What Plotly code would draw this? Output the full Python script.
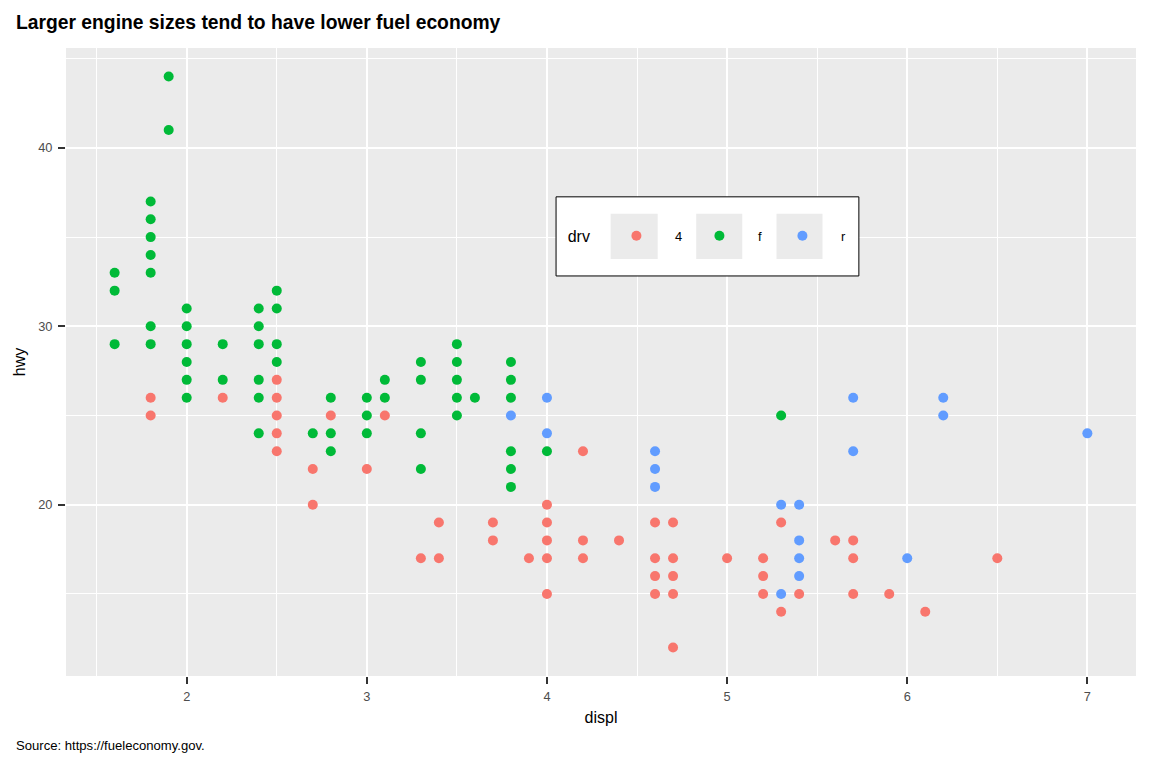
import plotly.graph_objects as go

# mpg: engine displacement vs highway mileage, split by drive train
drv_levels = ['4', 'f', 'r']
drv_colors = ['#F8766D', '#00BA38', '#619CFF']

displ_4 = [1.8, 1.8, 2.2, 2.5, 2.5, 2.5, 2.5, 2.5, 2.7, 2.7, 2.8, 3.0, 3.1,
           3.3, 3.4, 3.4, 3.7, 3.7, 3.9, 4.0, 4.0, 4.0, 4.0, 4.0,
           4.2, 4.2, 4.2, 4.4, 4.6, 4.6, 4.6, 4.6, 4.7, 4.7, 4.7, 4.7, 4.7,
           5.0, 5.2, 5.2, 5.2, 5.3, 5.3, 5.4, 5.6, 5.7, 5.7, 5.7, 5.9, 6.1, 6.5]
hwy_4 = [26, 25, 26, 27, 26, 25, 24, 23, 22, 20, 25, 22, 25,
         17, 19, 17, 19, 18, 17, 20, 19, 18, 17, 15,
         23, 18, 17, 18, 19, 17, 16, 15, 19, 17, 16, 15, 12,
         17, 17, 16, 15, 19, 14, 15, 18, 18, 17, 15, 15, 14, 17]

displ_f = [1.6, 1.6, 1.6, 1.8, 1.8, 1.8, 1.8, 1.8, 1.8, 1.8, 1.9, 1.9,
           2.0, 2.0, 2.0, 2.0, 2.0, 2.0, 2.2, 2.2,
           2.4, 2.4, 2.4, 2.4, 2.4, 2.4, 2.5, 2.5, 2.5, 2.5, 2.7,
           2.8, 2.8, 2.8, 3.0, 3.0, 3.0, 3.1, 3.1, 3.3, 3.3, 3.3, 3.3,
           3.5, 3.5, 3.5, 3.5, 3.5, 3.6, 3.8, 3.8, 3.8, 3.8, 3.8, 3.8, 4.0, 5.3]
hwy_f = [33, 32, 29, 37, 36, 35, 34, 33, 30, 29, 44, 41,
         31, 30, 29, 28, 27, 26, 29, 27,
         31, 30, 29, 27, 26, 24, 32, 31, 29, 28, 24,
         26, 24, 23, 26, 25, 24, 27, 26, 28, 27, 24, 22,
         29, 28, 27, 26, 25, 26, 28, 27, 26, 23, 22, 21, 23, 25]

displ_r = [3.8, 4.0, 4.0, 4.6, 4.6, 4.6, 5.3, 5.3, 5.4, 5.4, 5.4, 5.4,
           5.7, 5.7, 6.0, 6.2, 6.2, 7.0]
hwy_r = [25, 26, 24, 23, 22, 21, 20, 15, 20, 18, 17, 16,
         26, 23, 17, 26, 25, 24]

series = [(displ_4, hwy_4), (displ_f, hwy_f), (displ_r, hwy_r)]

FONT = 'Liberation Sans'

fig = go.Figure()
for (xs, ys), name, col in zip(series, drv_levels, drv_colors):
    fig.add_trace(go.Scatter(x=xs, y=ys, mode='markers', name=name,
                             marker=dict(color=col, size=10, line=dict(width=0))))

axis_common = dict(
    showgrid=True, gridcolor='white', gridwidth=2,
    zeroline=False, showline=False,
    ticks='outside', ticklen=7, tickwidth=2, tickcolor='#333333',
    tickfont=dict(family=FONT, size=12.8, color='#4D4D4D'),
)

# page body has an 8px margin, so the figure is 8px smaller each way
fig.update_layout(
    width=1144, height=760,
    margin=dict(l=58, r=16, t=40, b=92),
    paper_bgcolor='white', plot_bgcolor='#EBEBEB',
    font=dict(family=FONT, color='black'),
    title=dict(text='<b>Larger engine sizes tend to have lower fuel economy</b>',
               xref='container', x=8 / 1144, xanchor='left',
               yref='container', y=1 - 14 / 760, yanchor='middle',
               font=dict(family=FONT, size=19.3, color='black')),
    xaxis=dict(range=[1.33, 7.27], dtick=1, tick0=2, ticklabelstandoff=2,
               minor=dict(dtick=1, tick0=1.5, showgrid=True, gridcolor='white', gridwidth=1, ticks=''),
               title=dict(text='displ', standoff=8, font=dict(family=FONT, size=16)),
               **axis_common),
    yaxis=dict(range=[10.4, 45.6], dtick=10, tick0=20, ticklabelstandoff=3,
               minor=dict(dtick=10, tick0=15, showgrid=True, gridcolor='white', gridwidth=1, ticks=''),
               title=dict(text='hwy', standoff=8, font=dict(family=FONT, size=16)),
               **axis_common),
    legend=dict(orientation='h', x=0.467, y=0.70, xanchor='left', yanchor='middle',
                bgcolor='rgba(0,0,0,0)', borderwidth=0,
                title=dict(text='drv', side='left', font=dict(family=FONT, size=16)),
                font=dict(family=FONT, size=12.9), entrywidth=1, itemwidth=67),
    shapes=[
        dict(type='rect', xref='paper', yref='paper', x0=0.458, x1=0.741, y0=0.637, y1=0.763,
             fillcolor='white', line=dict(color='black', width=1), layer='above'),
        dict(type='rect', xref='paper', yref='paper', x0=0.509, x1=0.553, y0=0.664, y1=0.736,
             fillcolor='#EBEBEB', line=dict(width=0), layer='above'),
        dict(type='rect', xref='paper', yref='paper', x0=0.589, x1=0.632, y0=0.664, y1=0.736,
             fillcolor='#EBEBEB', line=dict(width=0), layer='above'),
        dict(type='rect', xref='paper', yref='paper', x0=0.664, x1=0.707, y0=0.664, y1=0.736,
             fillcolor='#EBEBEB', line=dict(width=0), layer='above'),
    ],
    annotations=[
        dict(text='Source: https://fueleconomy.gov.', xref='paper', yref='paper',
             x=-52 / 1070, y=-69 / 628, xanchor='left', yanchor='middle', showarrow=False,
             font=dict(family=FONT, size=13.1, color='black')),
    ],
)

fig.write_html('out.html')
